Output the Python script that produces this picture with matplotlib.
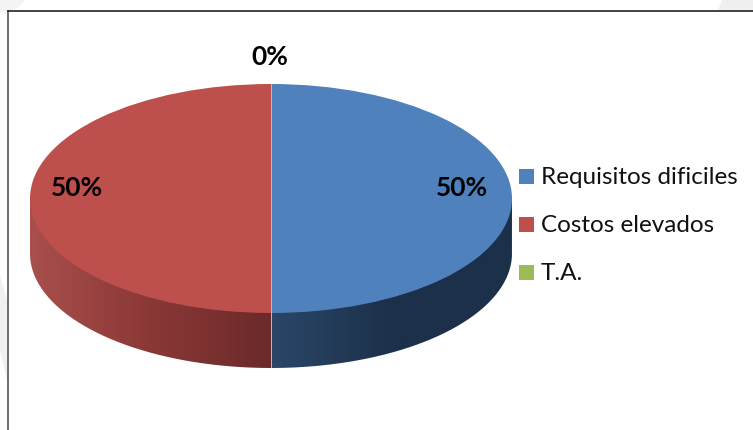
import numpy as np
import matplotlib
matplotlib.use("Agg")
import matplotlib.pyplot as plt
from matplotlib.patches import PathPatch, Rectangle
from matplotlib.path import Path
from matplotlib.colors import LinearSegmentedColormap

categories = ["Requisitos dificiles", "Costos elevados", "T.A."]
values = [50, 50, 0]
labels = ["50%", "50%", "0%"]
colors = ["#4f81bd", "#bd4f4c", "#9bbb59"]
# side wall shading, left to right
side_ramps = [["#2a4768", "#1c304a", "#1c304a"], ["#a94f4c", "#8a3836", "#6b2a2a"], ["#6f8a3f", "#6f8a3f"]]

plt.rcParams["font.family"] = ["Lato", "DejaVu Sans"]
W, H = 753, 430
fig = plt.figure(figsize=(W / 100, H / 100), dpi=100)

# page layer in pixels
bg = fig.add_axes([0, 0, 1, 1])
bg.set_xlim(0, W)
bg.set_ylim(H, 0)
bg.axis("off")
bg.set_zorder(3)
bg.patch.set_alpha(0)
bg.plot([8, 8], [H, 11], color="#555555", lw=1.2)
bg.plot([8, W], [11, 11], color="#222222", lw=1.2)

# faint scan shadows around the frame
bg.fill([0, 25, 18, 0], [0, 0, 8, 14], color="#f4f4f4", lw=0, zorder=0)
bg.fill([722, 753, 753, 718], [0, 0, 10, 10], color="#f0f0f0", lw=0, zorder=0)
bg.fill([0, 7, 7, 0], [275, 300, 380, 350], color="#f0f0f0", lw=0, zorder=0)

# pie axes: top ellipse is 1 unit radius, depth is extra below
cx, cy, rx, ry, depth = 271, 198.5, 241, 114.5, 55
ax = fig.add_axes([(cx - rx) / W, 1 - (cy + ry + depth) / H, 2 * rx / W, (2 * ry + depth) / H])
d = depth / ry

wedges, _ = ax.pie(values, colors=colors, startangle=90, counterclock=False, radius=1)
for w in wedges:
    w.set_zorder(5)

start = 90.0
total = sum(values)
for val, ramp in zip(values, side_ramps):
    end = start - 360.0 * val / total
    if val > 0:
        # only the lower half of the ellipse shows a wall
        lo, hi = (-90.0, 0.0) if start > -90 else (-180.0, -90.0)
        t = np.radians(np.linspace(max(end, lo), min(start, hi), 200))
        xs, ys = np.cos(t), np.sin(t)
        # top edge runs under the wedge so no seam shows
        px = np.r_[xs, xs[::-1]]
        py = np.r_[np.zeros_like(ys), ys[::-1] - d]
        clip = PathPatch(Path(np.c_[px, py]), transform=ax.transData, fc="none", ec="none")
        ax.add_patch(clip)
        cmap = LinearSegmentedColormap.from_list("side", ramp)
        im = ax.imshow(np.linspace(0, 1, 256)[None, :], cmap=cmap, aspect="auto", zorder=2,
                       extent=[px.min(), px.max(), -1 - d, 1], interpolation="bilinear")
        im.set_clip_path(clip)
    start = end

ax.plot([0, 0], [1, -1 - d], color="#a9c0dc", lw=0.7, zorder=6)
ax.set_aspect("auto")
ax.set_xlim(-1, 1)
ax.set_ylim(-1 - d, 1)
ax.axis("off")

# value labels
label_pos = [(462, 188), (77, 188), (270, 57)]
for txt, (x, y) in zip(labels, label_pos):
    bg.text(x, y, txt, ha="center", va="center", fontsize=19, fontweight="bold", color="black", zorder=10)

# legend
for i, (name, col) in enumerate(zip(categories, colors)):
    y = 176.5 + 48 * i
    bg.add_patch(Rectangle((519, y - 7.5), 15, 15, fc=col, ec="none"))
    bg.text(541, y + 1, name, ha="left", va="center", fontsize=17.5, color="#111111")

fig.savefig("out.png", dpi=100)
